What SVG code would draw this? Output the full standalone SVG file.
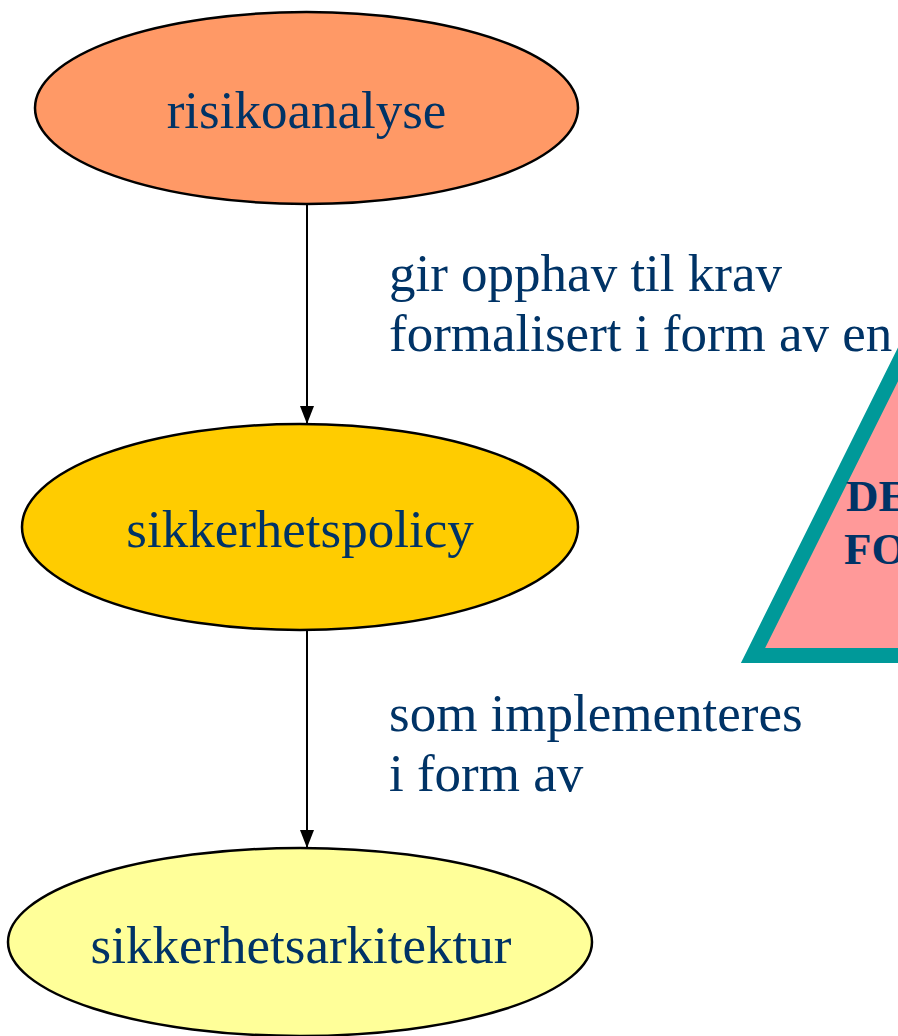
<svg xmlns="http://www.w3.org/2000/svg" width="898" height="1036" viewBox="0 0 898 1036">
<style>
.node{stroke:#000;stroke-width:2.5}
.lbl{font-family:"Liberation Serif","Times New Roman",serif;font-size:53px;fill:#003366}
.edge{stroke:#000;stroke-width:2;fill:none}
.tri{font-family:"Liberation Serif","Times New Roman",serif;font-size:45px;font-weight:bold;fill:#003366}
</style>
<defs>
<marker id="arr" markerWidth="18" markerHeight="14" refX="18" refY="7" orient="auto" markerUnits="userSpaceOnUse" viewBox="0 0 18 14">
<path d="M0,0 L18,7 L0,14 Z" fill="#000"/>
</marker>
</defs>
<rect width="898" height="1036" fill="#fff"/>
<g id="triangle">
<polygon points="753,655.5 955,250 1157,655.5" fill="#ff9999" stroke="#009999" stroke-width="15" stroke-linejoin="miter"/>
<text class="tri" x="846" y="511">DE</text>
<text class="tri" x="844" y="564">FO</text>
</g>
<g id="connectors">
<line class="edge" x1="307" y1="204" x2="307" y2="424" marker-end="url(#arr)"/>
<line class="edge" x1="307" y1="630" x2="307" y2="848" marker-end="url(#arr)"/>
<text class="lbl" x="389" y="291">gir opphav til krav</text>
<text class="lbl" x="389" y="351">formalisert i form av en</text>
<text class="lbl" x="389" y="731">som implementeres</text>
<text class="lbl" x="389" y="791">i form av</text>
</g>
<g id="risikoanalyse">
<ellipse class="node" cx="306.5" cy="108" rx="271.5" ry="96" fill="#ff9966"/>
<text class="lbl" x="306.5" y="128" text-anchor="middle">risikoanalyse</text>
</g>
<g id="sikkerhetspolicy">
<ellipse class="node" cx="300" cy="527" rx="278" ry="103" fill="#ffcc00"/>
<text class="lbl" x="300" y="547" text-anchor="middle">sikkerhetspolicy</text>
</g>
<g id="sikkerhetsarkitektur">
<ellipse class="node" cx="300" cy="942" rx="292" ry="94" fill="#ffff99"/>
<text class="lbl" x="301" y="963" text-anchor="middle">sikkerhetsarkitektur</text>
</g>
</svg>
